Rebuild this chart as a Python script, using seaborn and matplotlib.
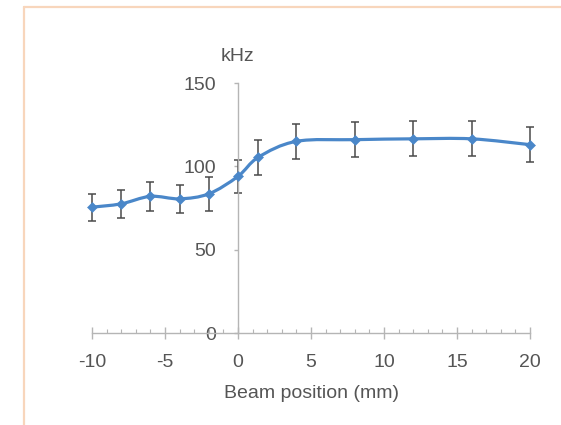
import numpy as np
import matplotlib
matplotlib.use("Agg")
import matplotlib.pyplot as plt
from matplotlib.path import Path
from matplotlib.patches import PathPatch
from matplotlib.lines import Line2D
from matplotlib.ticker import MultipleLocator
import seaborn as sns
import pandas as pd

# Measured count rate versus beam position
beam_pos = [-10, -8, -6, -4, -2, 0, 1.4, 4, 8, 12, 16, 20]
rate_khz = [75.5, 77.5, 82, 80.5, 83.5, 94, 105.5, 115, 116, 116.5, 116.5, 113]
rate_err = [8, 8.5, 8.5, 8.5, 10, 10, 10.5, 10.5, 10.5, 10.5, 10.5, 10.5]
x_ticks = [-10, -5, 0, 5, 10, 15, 20]
y_ticks = [0, 50, 100, 150]

sns.set_style("white")
plt.rcParams["font.family"] = ["Liberation Sans", "DejaVu Sans"]

df = pd.DataFrame({"pos": beam_pos, "rate": rate_khz, "err": rate_err})

fig = plt.figure(figsize=(5.61, 4.25), dpi=100)
ax = fig.add_axes([92 / 561, 92 / 425, 438 / 561, 250 / 425])

blue = "#4a87c9"
grey_txt = "#555555"
axis_col = "#b5b5b5"
fs = 14

# Smooth curve through the points (Catmull-Rom as cubic Bezier segments)
pts = np.column_stack([df["pos"], df["rate"]])
ext = np.vstack([pts[0], pts, pts[-1]])
verts = [tuple(pts[0])]
codes = [Path.MOVETO]
for i in range(len(pts) - 1):
    p0, p1, p2, p3 = ext[i], ext[i + 1], ext[i + 2], ext[i + 3]
    c1 = p1 + (p2 - p0) / 6.0
    c2 = p2 - (p3 - p1) / 6.0
    verts += [tuple(c1), tuple(c2), tuple(p2)]
    codes += [Path.CURVE4] * 3
ax.add_patch(PathPatch(Path(verts, codes), facecolor="none", edgecolor=blue,
                       lw=2.3, zorder=3, clip_on=False))

ax.errorbar(df["pos"], df["rate"], yerr=df["err"], fmt="none", ecolor="#4a4a4a",
            elinewidth=1.1, capsize=3, capthick=1.1, zorder=2, clip_on=False)
sns.scatterplot(data=df, x="pos", y="rate", ax=ax, marker="D", s=26,
                color=blue, edgecolor=blue, zorder=4, clip_on=False, legend=False)

ax.set_xlim(-10, 20)
ax.set_ylim(0, 150)

for side in ["top", "right"]:
    ax.spines[side].set_visible(False)
ax.spines["left"].set_position(("data", 0))
ax.spines["left"].set_color(axis_col)
ax.spines["bottom"].set_color(axis_col)
ax.spines["left"].set_linewidth(1.0)
ax.spines["bottom"].set_linewidth(1.0)

ax.set_xticks(x_ticks)
ax.set_xticklabels([str(t) for t in x_ticks])
ax.xaxis.set_minor_locator(MultipleLocator(1))
ax.set_yticks(y_ticks)
ax.set_yticklabels([str(t) for t in y_ticks])

ax.tick_params(axis="x", which="major", direction="inout", length=8, width=1,
               color=axis_col, labelsize=fs, labelcolor=grey_txt, pad=11, bottom=True)
ax.tick_params(axis="x", which="minor", direction="in", length=3, width=0.8,
               color=axis_col, bottom=True)
ax.tick_params(axis="y", which="major", direction="out", length=3, width=1,
               color=axis_col, labelsize=fs, labelcolor=grey_txt, pad=13, left=True)

ax.set_xlabel("Beam position (mm)", fontsize=fs, color=grey_txt, labelpad=10)
ax.set_ylabel("")
ax.text(0, 166, "kHz", ha="center", va="center", fontsize=fs, color=grey_txt,
        clip_on=False)

# Thin frame lines along the top and left edge of the figure
frame_col = "#f8d6bc"
fig.add_artist(Line2D([24 / 561, 1], [1 - 7 / 425, 1 - 7 / 425],
                      transform=fig.transFigure, color=frame_col, lw=1.6))
fig.add_artist(Line2D([24 / 561, 24 / 561], [0, 1 - 7 / 425],
                      transform=fig.transFigure, color=frame_col, lw=1.6))

fig.savefig("out.png", dpi=100)
